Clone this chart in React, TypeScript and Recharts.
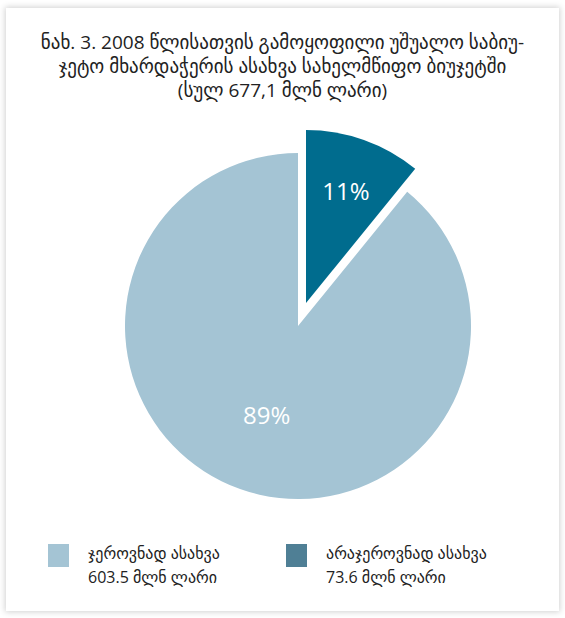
import React from "react";
import { PieChart, Pie, Cell } from "recharts";

const categories = ["ჯეროვნად ასახვა", "არაჯეროვნად ასახვა"];
const amounts = [603.5, 73.6];
const amountLabels = ["603.5 მლნ ლარი", "73.6 მლნ ლარი"];
const pctLabels = ["89%", "11%"];
const sliceColors = ["#a4c4d4", "#006c8e"];
const swatchColors = ["#a4c4d4", "#4f7f95"];
const titleLines = [
  "ნახ. 3. 2008 წლისათვის გამოყოფილი უშუალო საბიუ-",
  "ჯეტო მხარდაჭერის ასახვა სახელმწიფო ბიუჯეტში",
  "(სულ 677,1 მლნ ლარი)",
];

const data = categories.map((name, i) => ({ name, value: amounts[i], pct: pctLabels[i] }));

const FONT = "'Open Sans', 'DejaVu Sans', sans-serif";
const RADIAN = Math.PI / 180;

// label radius as share of the outer radius, per slice
const labelPos = [0.54, 0.69];

function makeLabel(onlyIndex: number) {
  return (props: any) => {
    const { cx, cy, midAngle, outerRadius, index } = props;
    if (index !== onlyIndex) return null;
    const r = outerRadius * labelPos[index];
    const x = cx + r * Math.cos(-midAngle * RADIAN);
    const y = cy + r * Math.sin(-midAngle * RADIAN);
    return (
      <text x={x} y={y} fill="#fff" fontSize={24} fontFamily={FONT} textAnchor="middle" dominantBaseline="central">
        {data[index].pct}
      </text>
    );
  };
}

export default function App() {
  const cx = 298;
  const cy = 326;
  const radius = 173;
  // small slice pulled out along its mid angle
  const dx = 8;
  const dy = -23;
  return (
    <div style={{ position: "relative", width: 565, height: 618, background: "#fff", fontFamily: FONT }}>
      <style>{`body{margin:0}`}</style>
      <div
        style={{
          position: "absolute",
          left: 6,
          top: 8,
          width: 553,
          height: 603,
          background: "#fff",
          boxShadow: "0 0 6px 1px rgba(0,0,0,0.18)",
        }}
      />
      <div
        style={{
          position: "absolute",
          left: 0,
          top: 30,
          width: 553,
          marginLeft: 6,
          textAlign: "center",
          fontSize: 19,
          lineHeight: "24px",
          color: "#222",
        }}
      >
        {titleLines.map((t) => (
          <div key={t}>{t}</div>
        ))}
      </div>
      <div style={{ position: "absolute", left: 0, top: 0 }}>
        <PieChart width={565} height={618} margin={{ top: 0, right: 0, bottom: 0, left: 0 }}>
          <Pie
            data={data}
            dataKey="value"
            cx={cx}
            cy={cy}
            outerRadius={radius}
            startAngle={90}
            endAngle={450}
            stroke="none"
            label={makeLabel(0)}
            labelLine={false}
            isAnimationActive={false}
          >
            {data.map((d, i) => (
              <Cell key={d.name} fill={i === 0 ? sliceColors[0] : "none"} />
            ))}
          </Pie>
          <Pie
            data={data}
            dataKey="value"
            cx={cx + dx}
            cy={cy + dy}
            outerRadius={radius}
            startAngle={90}
            endAngle={450}
            stroke="none"
            label={makeLabel(1)}
            labelLine={false}
            isAnimationActive={false}
          >
            {data.map((d, i) => (
              <Cell key={d.name} fill={i === 1 ? sliceColors[1] : "none"} />
            ))}
          </Pie>
        </PieChart>
      </div>
      {categories.map((c, i) => (
        <div key={c} style={{ position: "absolute", left: 48 + i * 238, top: 544 }}>
          <div style={{ position: "absolute", left: 0, top: 0, width: 21, height: 23, background: swatchColors[i] }} />
          <div
            style={{
              position: "absolute",
              left: 40,
              top: -3,
              whiteSpace: "nowrap",
              fontSize: 16,
              lineHeight: "24px",
              color: "#222",
            }}
          >
            <div>{c}</div>
            <div>{amountLabels[i]}</div>
          </div>
        </div>
      ))}
    </div>
  );
}
